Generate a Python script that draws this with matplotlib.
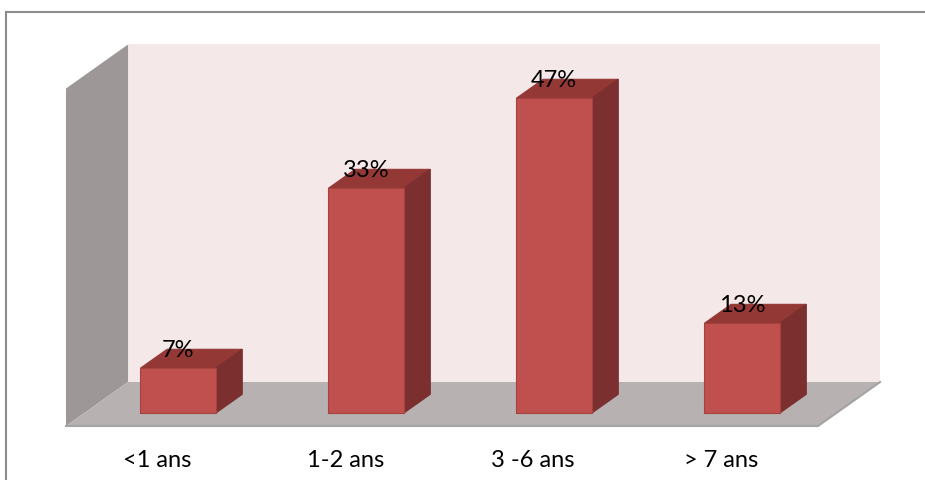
import matplotlib
matplotlib.use("Agg")
import matplotlib.pyplot as plt
from matplotlib.patches import Polygon
from matplotlib.lines import Line2D

categories = ["<1 ans", "1-2 ans", "3 -6 ans", "> 7 ans"]
values = [6.67, 33.33, 46.67, 13.33]
value_labels = ["7%", "33%", "47%", "13%"]
y_max = 50

# oblique "3D" projection: depth d in [0, 1] shifts by (DX, DY) in data units
DX, DY = 0.33, 6.52
W = 0.4              # bar width (categories)
D0, D1 = 0.29, 0.72  # bar depth range

FRONT = "#c0504d"; TOP = "#943836"; SIDE = "#7b302f"; EDGE = "#a3423f"
BACK = "#f4e8e8"; WALL = "#9d9797"; FLOOR = "#b8b1b1"; LINE = "#a3a3a3"

plt.rcParams["font.family"] = ["Lato", "DejaVu Sans"]

fig = plt.figure(figsize=(9.25, 4.81), dpi=100)
ax = fig.add_axes([0, 0, 1, 1])
ax.set_xlim(-0.851, 4.069)
ax.set_ylim(-8.0, 63.26)
ax.axis("off")


def P(x, y, d):
    return (x + DX * d, y + DY * d)


n = len(categories)
xa, xb = -0.5, n - 0.5

# walls and floor
ax.add_patch(Polygon([P(xa, 0, 1), P(xb, 0, 1), P(xb, y_max, 1), P(xa, y_max, 1)],
                     fc=BACK, ec="none", zorder=1))
ax.add_patch(Polygon([P(xa, 0, 0), P(xa, 0, 1), P(xa, y_max, 1), P(xa, y_max, 0)],
                     fc=WALL, ec="none", zorder=1))
ax.add_patch(Polygon([P(xa, 0, 0), P(xb, 0, 0), P(xb, 0, 1), P(xa, 0, 1)],
                     fc=FLOOR, ec="none", zorder=1))
fx, fy = zip(P(xa, 0, 0), P(xb, 0, 0), P(xb, 0, 1))
ax.plot(fx, fy, color=LINE, lw=1.5, zorder=2)

# bars
xs = [i + DX * D0 for i in range(n)]
ax.bar(xs, values, width=W, bottom=DY * D0, color=FRONT, edgecolor=EDGE, lw=0.8, zorder=4)
for i, v in enumerate(values):
    x0, x1 = i - W / 2, i + W / 2
    ax.add_patch(Polygon([P(x0, v, D0), P(x1, v, D0), P(x1, v, D1), P(x0, v, D1)],
                         fc=TOP, ec=TOP, lw=0.8, zorder=3))
    ax.add_patch(Polygon([P(x1, 0, D0), P(x1, 0, D1), P(x1, v, D1), P(x1, v, D0)],
                         fc=SIDE, ec=SIDE, lw=0.8, zorder=3))
    lx, ly = P(i, v, D1)
    ax.text(xs[i], ly, value_labels[i], ha="center", va="center", fontsize=17, color="black", zorder=5)
    ax.text(i - 0.015, -5.0, categories[i], ha="center", va="center", fontsize=17, color="black")

# chart frame
fig.add_artist(Line2D([6 / 925, 1], [1 - 13 / 481] * 2, transform=fig.transFigure, color="#8c8c8c", lw=1.5))
fig.add_artist(Line2D([6 / 925] * 2, [0, 1 - 13 / 481], transform=fig.transFigure, color="#8c8c8c", lw=1.5))

fig.savefig("out.png", dpi=100, facecolor="white")
